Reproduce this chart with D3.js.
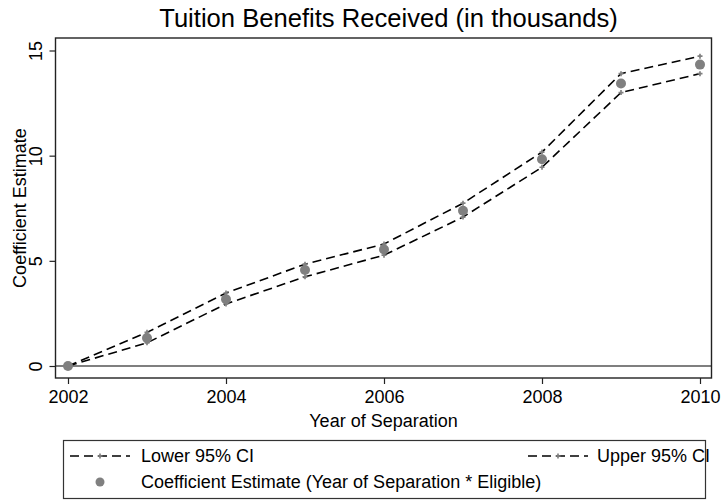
<!DOCTYPE html>
<html>
<head>
<meta charset="utf-8">
<script src="https://cdn.jsdelivr.net/npm/d3@7"></script>
<style>
  html, body { margin: 0; padding: 0; background: #fff; }
  svg { display: block; font-family: "Liberation Sans", Arial, Helvetica, sans-serif; }
</style>
</head>
<body>
<svg id="chart" width="721" height="502"></svg>
<script>
// Event-study estimates by year of separation
const years = [2002, 2003, 2004, 2005, 2006, 2007, 2008, 2009, 2010];
const estimate = [0, 1.33, 3.17, 4.56, 5.54, 7.38, 9.83, 13.43, 14.33];
const upperCI = [0, 1.6, 3.47, 4.84, 5.8, 7.74, 10.17, 13.9, 14.73];
const lowerCI = [0, 1.1, 2.95, 4.24, 5.27, 7.08, 9.45, 13.0, 13.9];
const xTicks = [2002, 2004, 2006, 2008, 2010];
const yTicks = [0, 5, 10, 15];

const svg = d3.select("#chart");
const frame = { left: 55.5, right: 711.5, top: 38, bottom: 378 };

const x = d3.scaleLinear().domain([2002, 2010]).range([68, 700]);
const y = d3.scaleLinear().domain([0, 15]).range([366, 50.5]);

const grey = "#808080";

// title
svg.append("text")
  .attr("x", 388.5)
  .attr("y", 27)
  .attr("text-anchor", "middle")
  .attr("font-size", 25.6)
  .attr("fill", "#000")
  .text("Tuition Benefits Received (in thousands)");

// reference line at zero
svg.append("line")
  .attr("x1", frame.left).attr("x2", frame.right)
  .attr("y1", y(0)).attr("y2", y(0))
  .attr("stroke", "#555").attr("stroke-width", 1.4);

// confidence bands as dashed lines with small + markers
const line = d3.line().x((d, i) => x(years[i])).y(d => y(d));
[lowerCI, upperCI].forEach(series => {
  svg.append("path")
    .datum(series)
    .attr("d", line)
    .attr("fill", "none")
    .attr("stroke", "#000")
    .attr("stroke-width", 1.6)
    .attr("stroke-dasharray", "9,5");
  svg.append("g").selectAll("path")
    .data(series)
    .join("path")
    .attr("d", d3.symbol(d3.symbolCross, 14))
    .attr("transform", (d, i) => `translate(${x(years[i])},${y(d)})`)
    .attr("fill", grey);
});

// point estimates
svg.append("g").selectAll("circle")
  .data(estimate)
  .join("circle")
  .attr("cx", (d, i) => x(years[i]))
  .attr("cy", d => y(d))
  .attr("r", 5)
  .attr("fill", grey);

// plot region frame
svg.append("rect")
  .attr("x", frame.left).attr("y", frame.top)
  .attr("width", frame.right - frame.left)
  .attr("height", frame.bottom - frame.top)
  .attr("fill", "none")
  .attr("stroke", "#222").attr("stroke-width", 1.4);

// y axis (labels rotated)
const yAxis = svg.append("g")
  .attr("transform", `translate(${frame.left},0)`)
  .call(d3.axisLeft(y).tickValues(yTicks).tickSize(6).tickPadding(0).tickFormat(d3.format("d")));
yAxis.select(".domain").remove();
yAxis.selectAll(".tick line").attr("stroke", "#222").attr("stroke-width", 1.2);
yAxis.selectAll(".tick text")
  .attr("font-size", 18)
  .attr("font-family", "Liberation Sans, Arial, sans-serif")
  .attr("fill", "#000")
  .attr("text-anchor", "middle")
  .attr("x", 0).attr("dy", 0)
  .attr("transform", "translate(-14,0) rotate(-90)");

// x axis
const xAxis = svg.append("g")
  .attr("transform", `translate(0,${frame.bottom})`)
  .call(d3.axisBottom(x).tickValues(xTicks).tickSize(6).tickPadding(6).tickFormat(d3.format("d")));
xAxis.select(".domain").remove();
xAxis.selectAll(".tick line").attr("stroke", "#222").attr("stroke-width", 1.2);
xAxis.selectAll(".tick text")
  .attr("font-size", 18)
  .attr("font-family", "Liberation Sans, Arial, sans-serif")
  .attr("fill", "#000");

// axis titles
svg.append("text")
  .attr("x", (frame.left + frame.right) / 2)
  .attr("y", 427)
  .attr("text-anchor", "middle")
  .attr("font-size", 18)
  .text("Year of Separation");

svg.append("text")
  .attr("transform", `translate(26,${(frame.top + frame.bottom) / 2}) rotate(-90)`)
  .attr("text-anchor", "middle")
  .attr("font-size", 18)
  .text("Coefficient Estimate");

// legend
const legend = svg.append("g");
legend.append("rect")
  .attr("x", 63.5).attr("y", 440.5)
  .attr("width", 642).attr("height", 58)
  .attr("fill", "none").attr("stroke", "#333").attr("stroke-width", 1.2);

const legendLines = [
  { label: "Lower 95% CI", x0: 70, tx: 141 },
  { label: "Upper 95% CI", x0: 528, tx: 597 }
];
legendLines.forEach(item => {
  legend.append("line")
    .attr("x1", item.x0).attr("x2", item.x0 + 60)
    .attr("y1", 456).attr("y2", 456)
    .attr("stroke", "#000").attr("stroke-width", 1.6)
    .attr("stroke-dasharray", "9,5");
  legend.append("path")
    .attr("d", d3.symbol(d3.symbolCross, 14))
    .attr("transform", `translate(${item.x0 + 30},456)`)
    .attr("fill", grey);
  legend.append("text")
    .attr("x", item.tx).attr("y", 462)
    .attr("font-size", 18)
    .text(item.label);
});
legend.append("circle")
  .attr("cx", 100).attr("cy", 482).attr("r", 4.5).attr("fill", grey);
legend.append("text")
  .attr("x", 141).attr("y", 488)
  .attr("font-size", 18)
  .text("Coefficient Estimate (Year of Separation * Eligible)");
</script>
</body>
</html>
